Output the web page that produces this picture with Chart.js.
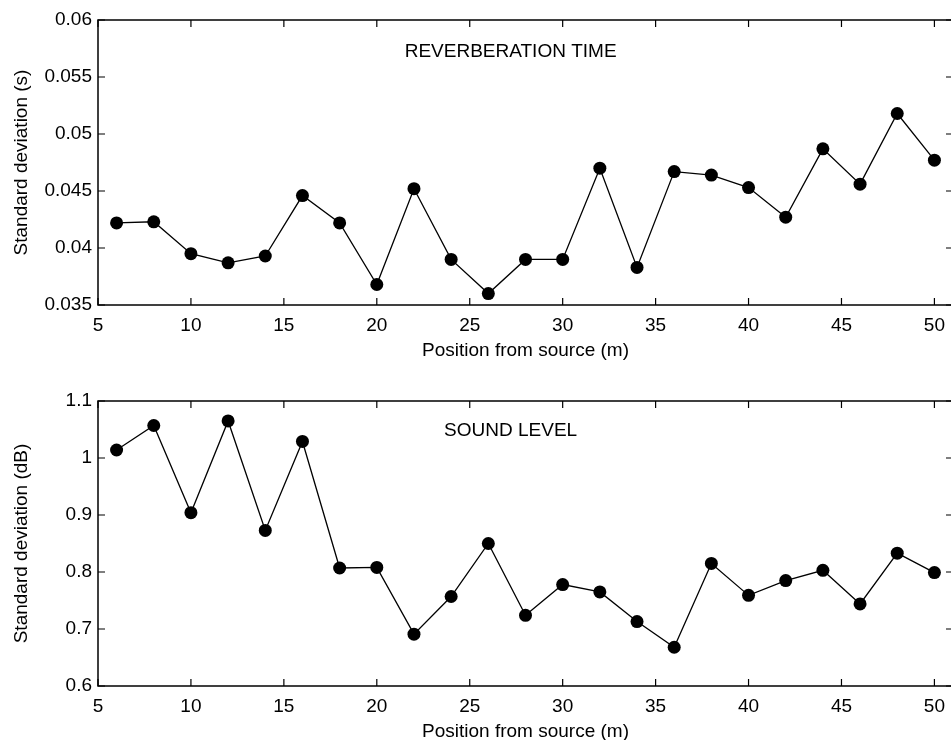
<!DOCTYPE html>
<html>
<head>
<meta charset="utf-8">
<script src="https://cdn.jsdelivr.net/npm/chart.js@4"></script>
<style>
  html, body { margin: 0; padding: 0; background: #fff; overflow: hidden; }
  canvas { position: absolute; left: 0; }
  #reverb { top: 0; }
  #level { top: 370px; }
</style>
</head>
<body>
<canvas id="reverb" width="960" height="370"></canvas>
<canvas id="level" width="960" height="381"></canvas>
<script>
const positions = [6, 8, 10, 12, 14, 16, 18, 20, 22, 24, 26, 28, 30, 32, 34, 36, 38, 40, 42, 44, 46, 48, 50];
const reverbStd = [0.0422, 0.0423, 0.0395, 0.0387, 0.0393, 0.0446, 0.0422, 0.0368, 0.0452, 0.0390, 0.0360, 0.0390,
                   0.0390, 0.0470, 0.0383, 0.0467, 0.0464, 0.0453, 0.0427, 0.0487, 0.0456, 0.0518, 0.0477];
const levelStd = [1.014, 1.057, 0.904, 1.065, 0.873, 1.029, 0.807, 0.808, 0.691, 0.757, 0.850, 0.724,
                  0.778, 0.765, 0.713, 0.668, 0.815, 0.759, 0.785, 0.803, 0.744, 0.833, 0.799];

const xTicks = [5, 10, 15, 20, 25, 30, 35, 40, 45, 50];
const reverbTicks = [0.035, 0.04, 0.045, 0.05, 0.055, 0.06];
const levelTicks = [0.6, 0.7, 0.8, 0.9, 1, 1.1];

const FONT = { family: '"Liberation Sans", Arial, Helvetica, sans-serif', size: 19 };
const TICK_LEN = 7;

// box round the plot area with inward ticks on every side, plus the caption inside
const frame = {
  id: 'frame',
  beforeDatasetsDraw(chart) {
    const { ctx, chartArea: a, scales } = chart;
    ctx.save();
    ctx.strokeStyle = '#000';
    ctx.lineWidth = 1.5;
    ctx.strokeRect(a.left, a.top, a.right - a.left, a.bottom - a.top);
    ctx.beginPath();
    scales.x.ticks.forEach(t => {
      const px = scales.x.getPixelForValue(t.value);
      ctx.moveTo(px, a.bottom); ctx.lineTo(px, a.bottom - TICK_LEN);
      ctx.moveTo(px, a.top); ctx.lineTo(px, a.top + TICK_LEN);
    });
    scales.y.ticks.forEach(t => {
      const py = scales.y.getPixelForValue(t.value);
      ctx.moveTo(a.left, py); ctx.lineTo(a.left + TICK_LEN, py);
      ctx.moveTo(a.right, py); ctx.lineTo(a.right - TICK_LEN, py);
    });
    ctx.lineWidth = 1.2;
    ctx.stroke();
    ctx.restore();
  },
  afterDraw(chart, args, opts) {
    const { ctx, scales } = chart;
    ctx.save();
    ctx.fillStyle = '#000';
    ctx.font = FONT.size + 'px ' + FONT.family;
    ctx.textAlign = 'center';
    ctx.textBaseline = 'middle';
    ctx.fillText(opts.text, scales.x.getPixelForValue(opts.x), scales.y.getPixelForValue(opts.y));
    ctx.restore();
  }
};

function makeChart(id, values, yTicks, decimals, yTitle, caption, captionY, padTop) {
  const points = positions.map((x, i) => ({ x: x, y: values[i] }));
  return new Chart(document.getElementById(id), {
    type: 'line',
    data: {
      datasets: [{
        data: points,
        borderColor: '#000',
        borderWidth: 1.3,
        pointRadius: 6.5,
        pointBackgroundColor: '#000',
        pointBorderWidth: 0,
        tension: 0,
        clip: false
      }]
    },
    options: {
      responsive: false,
      animation: false,
      layout: { padding: { top: padTop, right: 7, left: 0, bottom: 0 } },
      plugins: {
        legend: { display: false },
        tooltip: { enabled: false },
        frame: { text: caption, x: 27.2, y: captionY }
      },
      scales: {
        x: {
          type: 'linear',
          min: 5,
          max: 51,
          afterBuildTicks: s => { s.ticks = xTicks.map(v => ({ value: v })); },
          afterFit: s => { s.height = 65; },
          grid: { display: false, drawTicks: false },
          border: { display: false },
          ticks: { padding: 9, color: '#000', font: FONT, maxRotation: 0, autoSkip: false },
          title: { display: true, text: 'Position from source (m)', color: '#000', font: FONT, padding: { top: 0, bottom: 8 } }
        },
        y: {
          type: 'linear',
          min: yTicks[0],
          max: yTicks[yTicks.length - 1],
          afterBuildTicks: s => { s.ticks = yTicks.map(v => ({ value: v })); },
          afterFit: s => { s.width = 98; },
          grid: { display: false, drawTicks: false },
          border: { display: false },
          ticks: {
            padding: 6, color: '#000', font: FONT, autoSkip: false,
            callback: v => String(Number(v.toFixed(decimals)))
          },
          title: { display: true, text: yTitle, color: '#000', font: FONT, padding: { top: 10, bottom: 0 } }
        }
      }
    },
    plugins: [frame]
  });
}

makeChart('reverb', reverbStd, reverbTicks, 3, 'Standard deviation (s)', 'REVERBERATION TIME', 0.0572, 20);
makeChart('level', levelStd, levelTicks, 1, 'Standard deviation (dB)', 'SOUND LEVEL', 1.047, 31);
</script>
</body>
</html>
